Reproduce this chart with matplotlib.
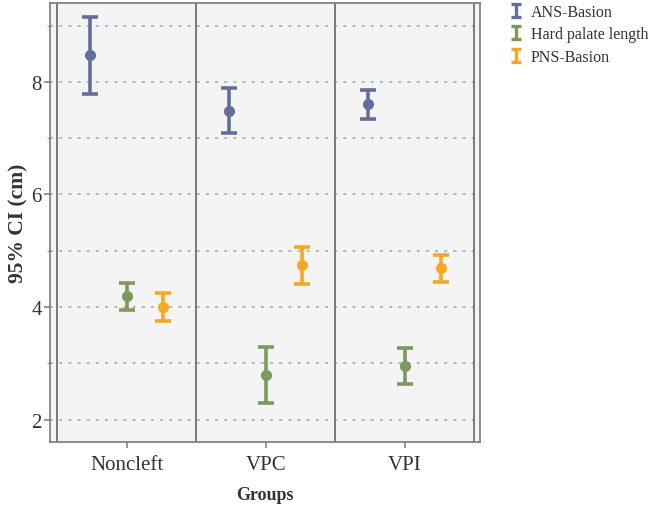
import numpy as np
import matplotlib
matplotlib.use("Agg")
import matplotlib.pyplot as plt
from matplotlib.legend_handler import HandlerErrorbar

plt.rcParams['font.family'] = ['Liberation Serif', 'DejaVu Serif']

groups = ["Noncleft", "VPC", "VPI"]
measures = ["ANS-Basion", "Hard palate length", "PNS-Basion"]

# mean and 95% CI bounds (cm) for each measure, per group
ans_mean = [8.47, 7.49, 7.60]
ans_low = [7.79, 7.10, 7.34]
ans_high = [9.15, 7.89, 7.85]

hpl_mean = [4.20, 2.79, 2.95]
hpl_low = [3.94, 2.29, 2.63]
hpl_high = [4.43, 3.30, 3.28]

pns_mean = [4.00, 4.75, 4.69]
pns_low = [3.76, 4.41, 4.45]
pns_high = [4.25, 5.07, 4.93]

colors = ["#636e9c", "#7b9a5c", "#f4a824"]
offsets = [-0.263, 0.0, 0.263]

fig = plt.figure(figsize=(6.5, 5.06), dpi=100)
ax = fig.add_axes([50 / 650, 1 - 442.7 / 506, 430 / 650, 438.7 / 506])
ax.set_facecolor("#f4f4f4")

ax.set_xlim(-0.5525, 2.543)
ax.set_ylim(1.61, 9.40)

# horizontal dotted grid at every integer
for yv in range(2, 10):
    ax.axhline(yv, color="#a8a8a8", lw=1.1, ls=(0, (2, 4)), zorder=1)

# panel separators
for xv in [-0.5, 0.5, 1.5, 2.5]:
    ax.axvline(xv, color="#7a7a7a", lw=1.4, zorder=2)

series = [
    (ans_mean, ans_low, ans_high),
    (hpl_mean, hpl_low, hpl_high),
    (pns_mean, pns_low, pns_high),
]

x = np.arange(len(groups))
handles = []
for (m, lo, hi), c, off, name in zip(series, colors, offsets, measures):
    m = np.array(m)
    yerr = np.vstack([m - np.array(lo), np.array(hi) - m])
    ax.errorbar(x + off, m, yerr=yerr, fmt='o', color=c, ms=7,
                elinewidth=2.6, capsize=6, capthick=2.6, zorder=3)
    h = ax.errorbar([np.nan], [np.nan], yerr=[[0], [0]], fmt='none',
                    ecolor=c, elinewidth=2.4, capsize=3.5, capthick=2.4,
                    label=name)
    handles.append(h)

for s in ax.spines.values():
    s.set_color("#7a7a7a")
    s.set_linewidth(1.2)

ax.set_xticks(x)
ax.set_xticklabels(groups)
ax.set_yticks([2, 4, 6, 8])
ax.set_yticks([3, 5, 7, 9], minor=True)
ax.tick_params(axis='both', which='major', labelsize=15, color="#7a7a7a",
               length=4.5, width=1.1, labelcolor="#333333")
ax.tick_params(axis='y', which='minor', length=2, color="#7a7a7a")
ax.tick_params(axis='x', pad=5)
ax.tick_params(axis='y', pad=1.5)

ax.set_xlabel("Groups", fontsize=13, fontweight='bold', color="#333333", labelpad=9)
ax.set_ylabel("95% CI (cm)", fontsize=15.5, fontweight='bold', color="#333333", labelpad=2)

fig.legend(handles=handles, labels=measures, loc='upper left',
           bbox_to_anchor=(510 / 650, 1 - 5 / 506), frameon=False,
           fontsize=11.5, handlelength=0.7, handletextpad=0.6,
           labelspacing=0.4, borderpad=0, borderaxespad=0,
           labelcolor="#333333",
           handler_map={type(handles[0]): HandlerErrorbar(yerr_size=0.4)})

fig.savefig("out.png", dpi=100, facecolor="white")
